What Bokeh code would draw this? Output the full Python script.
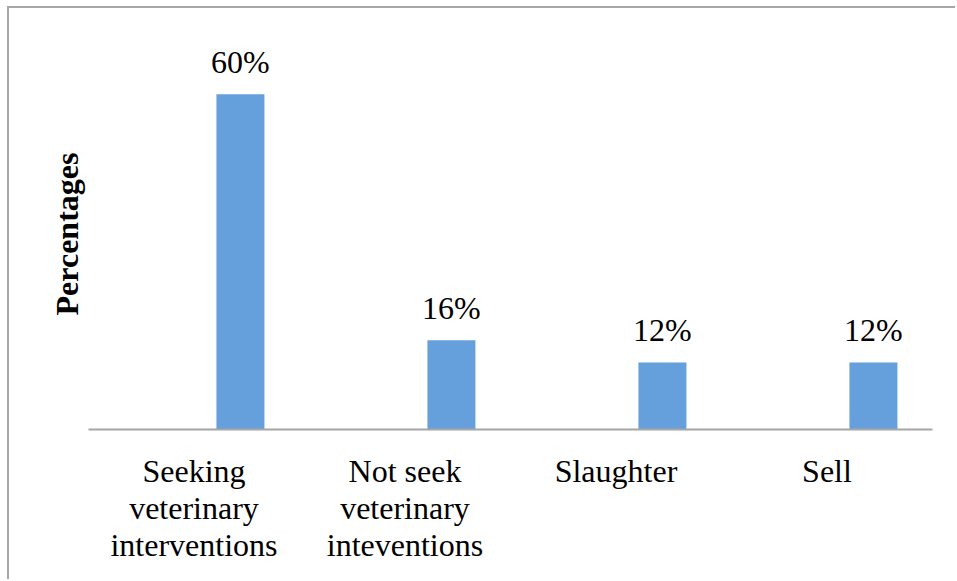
from bokeh.plotting import figure
from bokeh.models import ColumnDataSource, Range1d
from bokeh.transform import dodge
from bokeh.core.properties import value
from bokeh.embed import file_html
from bokeh.resources import INLINE

# Responses and their shares (%)
categories = [
    "Seeking\nveterinary\ninterventions",
    "Not seek\nveterinary\ninteventions",
    "Slaughter",
    "Sell",
]
percentages = [60, 16, 12, 12]
labels = [f"{v}%" for v in percentages]

source = ColumnDataSource(data=dict(cat=categories, pct=percentages, label=labels))

FONT = "Liberation Serif"
BAR_COLOR = "#65A0DC"
AXIS_GRAY = "#A6A6A6"

p = figure(
    x_range=categories,
    y_range=Range1d(0, 70),
    width=948,
    height=573,
    output_backend="svg",
    toolbar_location=None,
    min_border_left=79,
    min_border_right=25,
    min_border_top=30,
    min_border_bottom=152,
)
p.margin = (6, 0, 0, 7)
p.styles = {
    "border-left": f"2px solid {AXIS_GRAY}",
    "border-top": f"2px solid {AXIS_GRAY}",
}

p.outline_line_color = None
p.xgrid.grid_line_color = None
p.ygrid.grid_line_color = None
p.background_fill_color = "white"
p.border_fill_color = "white"

# bars sit to the right of each category centre
p.vbar(
    x=dodge("cat", 0.22, range=p.x_range),
    top="pct",
    width=0.2275,
    source=source,
    fill_color=BAR_COLOR,
    line_color=None,
)

p.text(
    x=dodge("cat", 0.22, range=p.x_range),
    y="pct",
    text="label",
    source=source,
    text_align="center",
    text_baseline="alphabetic",
    y_offset=-32,
    text_font=value(FONT),
    text_font_size="32px",
    text_color="black",
)

# x axis
xa = p.xaxis[0]
xa.axis_line_color = AXIS_GRAY
xa.axis_line_width = 2
xa.major_tick_line_color = None
xa.minor_tick_line_color = None
xa.major_label_text_font = FONT
xa.major_label_text_font_size = "32px"
xa.major_label_text_color = "black"
xa.major_label_text_line_height = 1.04
xa.major_label_standoff = 17

# y axis: title only
ya = p.yaxis[0]
ya.axis_line_color = None
ya.major_tick_line_color = None
ya.minor_tick_line_color = None
ya.major_label_text_font_size = "0px"
ya.major_label_standoff = 0
ya.major_tick_out = 0
ya.axis_label = "Percentages"
ya.axis_label_text_font = FONT
ya.axis_label_text_font_size = "32px"
ya.axis_label_text_font_style = "bold"
ya.axis_label_text_color = "black"
ya.axis_label_standoff = 0

open("out.html", "w").write(file_html(p, INLINE))
